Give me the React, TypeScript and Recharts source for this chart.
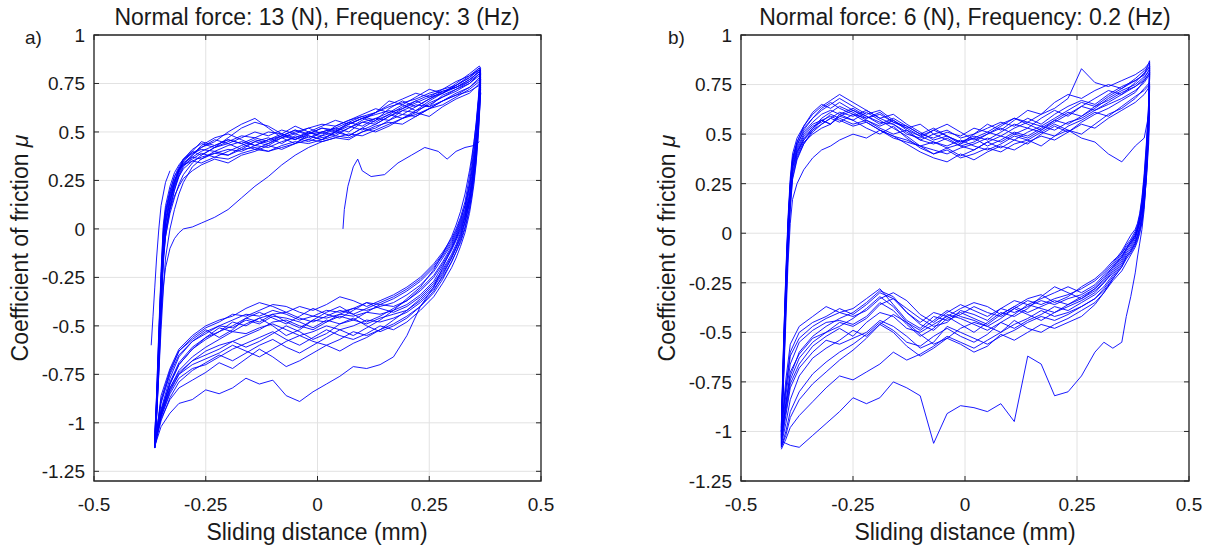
import { LineChart, Line, XAxis, YAxis, CartesianGrid, ReferenceArea } from 'recharts'

const X_TICKS = [-0.5, -0.25, 0, 0.25, 0.5]
const Y_TICKS = [-1.25, -1, -0.75, -0.5, -0.25, 0, 0.25, 0.5, 0.75, 1]

// ---- panel a) : 13 N, 3 Hz ----
// sliding distance sampled along the forward (upper) and backward (lower) stroke
const A_UP_X = [-0.364, -0.36, -0.355, -0.35, -0.345, -0.34, -0.33, -0.32, -0.31, -0.3, -0.28, -0.26, -0.23, -0.2, -0.17, -0.14, -0.11, -0.08, -0.05, -0.02, 0.01, 0.04, 0.07, 0.1, 0.13, 0.16, 0.19, 0.22, 0.25, 0.28, 0.31, 0.34, 0.362]
const A_DN_X = [0.365, 0.36, 0.355, 0.35, 0.345, 0.34, 0.33, 0.32, 0.31, 0.3, 0.28, 0.26, 0.23, 0.2, 0.17, 0.14, 0.11, 0.08, 0.05, 0.02, -0.01, -0.04, -0.07, -0.1, -0.13, -0.16, -0.19, -0.22, -0.25, -0.28, -0.31, -0.33, -0.35, -0.364]

const A_UP = [
  [-1.12, -0.95, -0.68, -0.38, -0.12, 0.02, 0.14, 0.23, 0.30, 0.35, 0.39, 0.41, 0.40, 0.43, 0.45, 0.43, 0.46, 0.48, 0.46, 0.49, 0.50, 0.48, 0.52, 0.55, 0.54, 0.58, 0.61, 0.60, 0.65, 0.68, 0.71, 0.75, 0.80],
  [-1.08, -0.85, -0.52, -0.22, 0.02, 0.12, 0.22, 0.29, 0.33, 0.36, 0.40, 0.38, 0.42, 0.44, 0.41, 0.45, 0.47, 0.44, 0.48, 0.46, 0.50, 0.52, 0.50, 0.55, 0.57, 0.56, 0.61, 0.64, 0.63, 0.69, 0.72, 0.76, 0.82],
  [-1.10, -0.92, -0.63, -0.33, -0.08, 0.04, 0.15, 0.22, 0.27, 0.31, 0.35, 0.37, 0.39, 0.38, 0.41, 0.42, 0.40, 0.43, 0.45, 0.44, 0.46, 0.48, 0.47, 0.50, 0.53, 0.55, 0.54, 0.58, 0.62, 0.64, 0.68, 0.72, 0.76],
  [-1.05, -0.88, -0.65, -0.45, -0.30, -0.20, -0.10, -0.05, -0.02, 0.00, 0.01, 0.03, 0.06, 0.10, 0.16, 0.22, 0.27, 0.33, 0.38, 0.42, 0.45, 0.47, 0.46, 0.50, 0.52, 0.56, 0.59, 0.58, 0.62, 0.66, 0.69, 0.73, 0.78],
  [-1.13, -0.97, -0.72, -0.42, -0.15, -0.02, 0.12, 0.22, 0.29, 0.34, 0.38, 0.42, 0.46, 0.44, 0.47, 0.50, 0.48, 0.51, 0.49, 0.52, 0.54, 0.53, 0.56, 0.58, 0.60, 0.63, 0.65, 0.67, 0.70, 0.72, 0.74, 0.78, 0.83],
  [-1.11, -0.93, -0.62, -0.30, -0.04, 0.08, 0.19, 0.27, 0.32, 0.36, 0.39, 0.42, 0.45, 0.50, 0.54, 0.57, 0.52, 0.47, 0.44, 0.49, 0.52, 0.50, 0.55, 0.58, 0.56, 0.62, 0.66, 0.63, 0.67, 0.71, 0.73, 0.77, 0.81],
  [-1.09, -0.90, -0.58, -0.27, -0.02, 0.09, 0.18, 0.25, 0.31, 0.34, 0.37, 0.36, 0.39, 0.41, 0.40, 0.43, 0.42, 0.45, 0.47, 0.45, 0.48, 0.50, 0.53, 0.51, 0.54, 0.58, 0.62, 0.66, 0.63, 0.66, 0.70, 0.73, 0.77],
  [-1.12, -0.96, -0.70, -0.40, -0.14, -0.01, 0.11, 0.20, 0.27, 0.32, 0.37, 0.40, 0.43, 0.46, 0.44, 0.41, 0.44, 0.48, 0.51, 0.48, 0.46, 0.50, 0.54, 0.57, 0.55, 0.59, 0.63, 0.66, 0.69, 0.71, 0.73, 0.77, 0.81],
  [-1.10, -0.91, -0.60, -0.28, -0.03, 0.07, 0.17, 0.25, 0.30, 0.33, 0.36, 0.39, 0.37, 0.40, 0.43, 0.46, 0.44, 0.47, 0.50, 0.52, 0.49, 0.51, 0.54, 0.57, 0.59, 0.61, 0.59, 0.63, 0.67, 0.70, 0.74, 0.79, 0.82],
  [-1.11, -0.94, -0.66, -0.35, -0.10, 0.03, 0.14, 0.24, 0.31, 0.36, 0.41, 0.44, 0.42, 0.45, 0.48, 0.47, 0.50, 0.49, 0.47, 0.50, 0.53, 0.56, 0.54, 0.57, 0.60, 0.64, 0.67, 0.70, 0.68, 0.72, 0.76, 0.79, 0.83],
  [-1.09, -0.89, -0.56, -0.24, 0.00, 0.10, 0.20, 0.27, 0.31, 0.33, 0.35, 0.34, 0.37, 0.36, 0.39, 0.41, 0.40, 0.42, 0.44, 0.46, 0.45, 0.47, 0.49, 0.48, 0.51, 0.54, 0.57, 0.59, 0.62, 0.66, 0.69, 0.71, 0.74],
  [-1.13, -0.98, -0.74, -0.45, -0.18, -0.04, 0.10, 0.20, 0.28, 0.33, 0.38, 0.43, 0.47, 0.49, 0.46, 0.43, 0.46, 0.49, 0.53, 0.50, 0.47, 0.49, 0.52, 0.56, 0.60, 0.66, 0.64, 0.61, 0.66, 0.70, 0.75, 0.80, 0.84],
  [-1.10, -0.96, -0.75, -0.52, -0.32, -0.15, 0.00, 0.10, 0.18, 0.24, 0.32, 0.36, 0.40, 0.38, 0.42, 0.45, 0.43, 0.47, 0.49, 0.47, 0.50, 0.52, 0.55, 0.53, 0.57, 0.60, 0.62, 0.65, 0.68, 0.70, 0.73, 0.76, 0.80],
  [-1.12, -0.93, -0.64, -0.36, -0.16, -0.04, 0.08, 0.16, 0.23, 0.28, 0.34, 0.38, 0.42, 0.47, 0.52, 0.55, 0.53, 0.49, 0.46, 0.50, 0.48, 0.53, 0.56, 0.59, 0.62, 0.60, 0.64, 0.68, 0.72, 0.70, 0.74, 0.78, 0.82],
  [-1.08, -0.86, -0.54, -0.26, -0.06, 0.05, 0.16, 0.24, 0.30, 0.35, 0.40, 0.45, 0.43, 0.46, 0.44, 0.47, 0.45, 0.48, 0.51, 0.49, 0.52, 0.51, 0.48, 0.52, 0.56, 0.59, 0.57, 0.61, 0.64, 0.68, 0.72, 0.75, 0.79],
  [-1.11, -0.92, -0.60, -0.32, -0.10, 0.00, 0.10, 0.17, 0.22, 0.26, 0.30, 0.33, 0.36, 0.34, 0.38, 0.40, 0.43, 0.41, 0.44, 0.48, 0.46, 0.50, 0.48, 0.52, 0.50, 0.53, 0.57, 0.60, 0.58, 0.63, 0.67, 0.70, 0.75],
]

const A_DN = [
  [0.76, 0.58, 0.42, 0.31, 0.22, 0.16, 0.06, -0.01, -0.06, -0.11, -0.19, -0.27, -0.34, -0.39, -0.42, -0.44, -0.43, -0.47, -0.49, -0.47, -0.51, -0.48, -0.46, -0.45, -0.49, -0.47, -0.51, -0.50, -0.54, -0.58, -0.66, -0.77, -0.93, -1.12],
  [0.80, 0.62, 0.46, 0.35, 0.27, 0.20, 0.09, 0.02, -0.04, -0.09, -0.17, -0.24, -0.31, -0.37, -0.40, -0.39, -0.43, -0.45, -0.44, -0.48, -0.47, -0.51, -0.48, -0.44, -0.46, -0.50, -0.48, -0.53, -0.56, -0.62, -0.70, -0.80, -0.95, -1.13],
  [0.72, 0.50, 0.35, 0.25, 0.17, 0.10, 0.00, -0.07, -0.12, -0.17, -0.25, -0.31, -0.38, -0.43, -0.46, -0.48, -0.47, -0.50, -0.52, -0.50, -0.53, -0.55, -0.52, -0.49, -0.51, -0.54, -0.53, -0.57, -0.61, -0.66, -0.73, -0.82, -0.96, -1.11],
  [0.70, 0.52, 0.38, 0.28, 0.20, 0.13, 0.03, -0.05, -0.10, -0.15, -0.23, -0.30, -0.37, -0.42, -0.44, -0.46, -0.49, -0.47, -0.45, -0.48, -0.52, -0.50, -0.47, -0.48, -0.52, -0.55, -0.58, -0.60, -0.63, -0.68, -0.75, -0.84, -0.97, -1.10],
  [0.81, 0.65, 0.50, 0.39, 0.30, 0.22, 0.10, 0.03, -0.03, -0.08, -0.15, -0.22, -0.29, -0.34, -0.38, -0.40, -0.42, -0.41, -0.44, -0.46, -0.45, -0.47, -0.44, -0.42, -0.45, -0.44, -0.47, -0.50, -0.53, -0.58, -0.65, -0.75, -0.90, -1.13],
  [0.78, 0.60, 0.45, 0.33, 0.24, 0.17, 0.07, 0.00, -0.05, -0.10, -0.18, -0.25, -0.32, -0.37, -0.41, -0.45, -0.48, -0.44, -0.40, -0.43, -0.47, -0.52, -0.55, -0.50, -0.46, -0.49, -0.53, -0.51, -0.56, -0.61, -0.69, -0.79, -0.94, -1.12],
  [0.74, 0.56, 0.41, 0.30, 0.21, 0.14, 0.04, -0.03, -0.09, -0.14, -0.22, -0.29, -0.36, -0.42, -0.47, -0.52, -0.55, -0.53, -0.57, -0.60, -0.58, -0.55, -0.58, -0.62, -0.66, -0.63, -0.60, -0.64, -0.67, -0.70, -0.75, -0.83, -0.96, -1.11],
  [0.79, 0.60, 0.44, 0.33, 0.25, 0.18, 0.08, 0.01, -0.05, -0.10, -0.20, -0.30, -0.40, -0.55, -0.66, -0.70, -0.72, -0.71, -0.76, -0.80, -0.84, -0.89, -0.86, -0.78, -0.80, -0.77, -0.82, -0.85, -0.83, -0.88, -0.90, -0.95, -1.02, -1.12],
  [0.75, 0.57, 0.41, 0.30, 0.21, 0.14, 0.04, -0.04, -0.10, -0.15, -0.24, -0.32, -0.40, -0.46, -0.50, -0.53, -0.50, -0.46, -0.49, -0.54, -0.57, -0.53, -0.50, -0.54, -0.58, -0.61, -0.58, -0.62, -0.65, -0.68, -0.74, -0.82, -0.95, -1.10],
  [0.82, 0.66, 0.52, 0.41, 0.32, 0.24, 0.12, 0.04, -0.02, -0.07, -0.14, -0.20, -0.27, -0.32, -0.36, -0.39, -0.38, -0.41, -0.43, -0.42, -0.45, -0.43, -0.40, -0.39, -0.42, -0.45, -0.44, -0.48, -0.51, -0.56, -0.63, -0.73, -0.88, -1.12],
  [0.70, 0.49, 0.34, 0.23, 0.15, 0.08, -0.02, -0.09, -0.15, -0.20, -0.28, -0.35, -0.42, -0.48, -0.52, -0.50, -0.54, -0.57, -0.55, -0.52, -0.56, -0.60, -0.57, -0.53, -0.56, -0.59, -0.62, -0.66, -0.70, -0.72, -0.77, -0.85, -0.97, -1.10],
  [0.83, 0.68, 0.55, 0.44, 0.35, 0.27, 0.14, 0.06, 0.00, -0.05, -0.12, -0.18, -0.25, -0.30, -0.34, -0.37, -0.40, -0.37, -0.35, -0.39, -0.42, -0.40, -0.43, -0.40, -0.38, -0.41, -0.45, -0.47, -0.50, -0.55, -0.62, -0.72, -0.86, -1.13],
  [0.77, 0.60, 0.47, 0.37, 0.29, 0.22, 0.12, 0.05, -0.01, -0.06, -0.13, -0.19, -0.26, -0.31, -0.35, -0.38, -0.41, -0.44, -0.42, -0.45, -0.48, -0.46, -0.43, -0.44, -0.48, -0.46, -0.50, -0.53, -0.57, -0.62, -0.70, -0.80, -0.94, -1.11],
  [0.80, 0.66, 0.54, 0.45, 0.37, 0.30, 0.18, 0.09, 0.02, -0.04, -0.13, -0.21, -0.30, -0.36, -0.42, -0.47, -0.51, -0.55, -0.52, -0.56, -0.60, -0.64, -0.61, -0.57, -0.60, -0.64, -0.68, -0.65, -0.69, -0.73, -0.79, -0.87, -0.99, -1.12],
  [0.77, 0.59, 0.43, 0.32, 0.23, 0.16, 0.06, -0.02, -0.08, -0.13, -0.21, -0.28, -0.35, -0.40, -0.43, -0.41, -0.38, -0.42, -0.46, -0.44, -0.41, -0.45, -0.49, -0.46, -0.43, -0.46, -0.52, -0.56, -0.52, -0.57, -0.63, -0.74, -0.89, -1.10],
  [0.73, 0.54, 0.38, 0.27, 0.18, 0.11, 0.01, -0.06, -0.12, -0.17, -0.26, -0.33, -0.40, -0.45, -0.49, -0.52, -0.56, -0.59, -0.63, -0.60, -0.64, -0.68, -0.71, -0.66, -0.62, -0.67, -0.72, -0.69, -0.74, -0.78, -0.82, -0.88, -0.98, -1.11],
]

// first loading from rest and the first short reversal
const A_START_X = [0.057, 0.06, 0.068, 0.08, 0.09, 0.1, 0.12, 0.15, 0.18, 0.21, 0.24, 0.27, 0.29, 0.31, 0.33, 0.35, 0.362]
const A_START_Y = [0, 0.1, 0.22, 0.32, 0.36, 0.30, 0.27, 0.28, 0.34, 0.38, 0.42, 0.40, 0.36, 0.40, 0.42, 0.43, 0.45]
const A_FIRST_X = [-0.372, -0.368, -0.364, -0.36, -0.355, -0.35, -0.34, -0.33]
const A_FIRST_Y = [-0.60, -0.45, -0.30, -0.15, 0.0, 0.12, 0.24, 0.30]

// ---- panel b) : 6 N, 0.2 Hz ----
const B_UP_X = [-0.41, -0.405, -0.40, -0.395, -0.39, -0.385, -0.375, -0.36, -0.34, -0.32, -0.30, -0.28, -0.25, -0.22, -0.19, -0.16, -0.13, -0.10, -0.07, -0.04, -0.01, 0.02, 0.05, 0.08, 0.11, 0.14, 0.17, 0.20, 0.23, 0.26, 0.29, 0.32, 0.35, 0.38, 0.40, 0.412]
const B_DN_X = [0.412, 0.41, 0.405, 0.40, 0.395, 0.39, 0.385, 0.38, 0.37, 0.36, 0.35, 0.33, 0.31, 0.29, 0.26, 0.23, 0.20, 0.17, 0.14, 0.11, 0.08, 0.05, 0.02, -0.01, -0.04, -0.07, -0.10, -0.13, -0.16, -0.19, -0.22, -0.25, -0.28, -0.31, -0.34, -0.37, -0.39, -0.40, -0.41]

const B_UP = [
  [-1.02, -0.62, -0.28, 0.02, 0.22, 0.34, 0.42, 0.49, 0.54, 0.56, 0.60, 0.58, 0.55, 0.57, 0.53, 0.50, 0.52, 0.47, 0.45, 0.48, 0.44, 0.42, 0.46, 0.49, 0.47, 0.51, 0.54, 0.52, 0.56, 0.58, 0.62, 0.65, 0.68, 0.72, 0.76, 0.80],
  [-0.98, -0.55, -0.22, 0.06, 0.26, 0.37, 0.45, 0.51, 0.56, 0.60, 0.62, 0.60, 0.63, 0.59, 0.56, 0.55, 0.50, 0.48, 0.52, 0.49, 0.46, 0.48, 0.44, 0.47, 0.51, 0.49, 0.53, 0.57, 0.55, 0.59, 0.64, 0.67, 0.71, 0.74, 0.78, 0.83],
  [-1.05, -0.70, -0.35, -0.05, 0.16, 0.30, 0.39, 0.46, 0.50, 0.53, 0.55, 0.59, 0.57, 0.53, 0.50, 0.54, 0.48, 0.43, 0.40, 0.42, 0.38, 0.40, 0.43, 0.41, 0.45, 0.47, 0.44, 0.49, 0.52, 0.50, 0.55, 0.60, 0.63, 0.68, 0.73, 0.76],
  [-1.00, -0.60, -0.25, 0.04, 0.24, 0.36, 0.44, 0.52, 0.58, 0.62, 0.65, 0.68, 0.64, 0.60, 0.62, 0.57, 0.53, 0.55, 0.50, 0.52, 0.48, 0.50, 0.53, 0.56, 0.54, 0.58, 0.55, 0.60, 0.64, 0.67, 0.65, 0.70, 0.74, 0.77, 0.80, 0.87],
  [-1.06, -0.75, -0.45, -0.15, 0.05, 0.17, 0.25, 0.32, 0.38, 0.42, 0.44, 0.47, 0.50, 0.48, 0.52, 0.49, 0.45, 0.41, 0.38, 0.36, 0.40, 0.37, 0.41, 0.44, 0.42, 0.46, 0.49, 0.47, 0.51, 0.55, 0.53, 0.58, 0.62, 0.66, 0.70, 0.74],
  [-1.03, -0.66, -0.30, 0.00, 0.20, 0.33, 0.41, 0.47, 0.52, 0.55, 0.58, 0.56, 0.60, 0.56, 0.52, 0.48, 0.46, 0.44, 0.46, 0.43, 0.45, 0.50, 0.55, 0.52, 0.57, 0.62, 0.60, 0.66, 0.70, 0.68, 0.72, 0.75, 0.73, 0.78, 0.82, 0.85],
  [-1.01, -0.64, -0.27, 0.03, 0.23, 0.35, 0.43, 0.50, 0.55, 0.57, 0.59, 0.57, 0.54, 0.56, 0.52, 0.49, 0.47, 0.44, 0.42, 0.40, 0.43, 0.45, 0.48, 0.46, 0.50, 0.53, 0.51, 0.55, 0.52, 0.48, 0.46, 0.40, 0.36, 0.44, 0.48, 0.62],
  [-1.08, -0.72, -0.38, -0.08, 0.14, 0.28, 0.38, 0.45, 0.51, 0.55, 0.58, 0.61, 0.59, 0.62, 0.58, 0.55, 0.51, 0.47, 0.50, 0.47, 0.44, 0.46, 0.50, 0.53, 0.50, 0.48, 0.52, 0.56, 0.60, 0.64, 0.62, 0.66, 0.70, 0.74, 0.77, 0.81],
  [-0.99, -0.58, -0.24, 0.05, 0.25, 0.38, 0.46, 0.53, 0.58, 0.63, 0.66, 0.63, 0.60, 0.58, 0.61, 0.56, 0.54, 0.50, 0.48, 0.51, 0.49, 0.53, 0.51, 0.55, 0.58, 0.56, 0.60, 0.63, 0.68, 0.83, 0.76, 0.74, 0.77, 0.80, 0.83, 0.86],
  [-1.04, -0.68, -0.33, -0.03, 0.18, 0.31, 0.40, 0.47, 0.53, 0.58, 0.61, 0.64, 0.61, 0.57, 0.54, 0.57, 0.52, 0.49, 0.46, 0.44, 0.47, 0.44, 0.42, 0.45, 0.49, 0.47, 0.51, 0.49, 0.54, 0.57, 0.61, 0.59, 0.64, 0.69, 0.72, 0.75],
  [-1.07, -0.73, -0.40, -0.10, 0.12, 0.27, 0.37, 0.45, 0.52, 0.57, 0.55, 0.59, 0.62, 0.58, 0.60, 0.56, 0.53, 0.49, 0.52, 0.55, 0.51, 0.47, 0.50, 0.54, 0.58, 0.55, 0.52, 0.57, 0.61, 0.59, 0.63, 0.68, 0.72, 0.75, 0.79, 0.82],
  [-0.97, -0.57, -0.20, 0.08, 0.28, 0.40, 0.48, 0.54, 0.60, 0.64, 0.67, 0.70, 0.66, 0.62, 0.58, 0.60, 0.55, 0.51, 0.47, 0.49, 0.46, 0.49, 0.47, 0.51, 0.55, 0.53, 0.58, 0.62, 0.59, 0.64, 0.68, 0.72, 0.70, 0.76, 0.81, 0.84],
  [-1.02, -0.66, -0.31, 0.00, 0.21, 0.33, 0.41, 0.48, 0.53, 0.57, 0.55, 0.60, 0.57, 0.61, 0.57, 0.53, 0.49, 0.44, 0.40, 0.43, 0.39, 0.42, 0.46, 0.43, 0.47, 0.45, 0.50, 0.54, 0.51, 0.56, 0.60, 0.63, 0.67, 0.71, 0.77, 0.81],
  [-1.00, -0.62, -0.27, 0.03, 0.24, 0.37, 0.46, 0.54, 0.61, 0.65, 0.63, 0.66, 0.62, 0.59, 0.55, 0.58, 0.54, 0.50, 0.53, 0.49, 0.45, 0.48, 0.51, 0.49, 0.53, 0.56, 0.54, 0.58, 0.62, 0.66, 0.64, 0.69, 0.73, 0.77, 0.80, 0.84],
]

const B_DN = [
  [0.78, 0.58, 0.36, 0.21, 0.11, 0.05, 0.01, -0.02, -0.06, -0.09, -0.13, -0.19, -0.25, -0.30, -0.34, -0.37, -0.40, -0.38, -0.36, -0.41, -0.45, -0.49, -0.46, -0.43, -0.41, -0.48, -0.52, -0.46, -0.39, -0.35, -0.42, -0.46, -0.44, -0.45, -0.49, -0.55, -0.66, -0.82, -1.03],
  [0.80, 0.62, 0.42, 0.26, 0.15, 0.08, 0.03, 0.00, -0.04, -0.08, -0.11, -0.17, -0.22, -0.27, -0.31, -0.33, -0.36, -0.34, -0.37, -0.40, -0.38, -0.44, -0.41, -0.39, -0.45, -0.47, -0.43, -0.38, -0.33, -0.30, -0.36, -0.41, -0.38, -0.42, -0.45, -0.50, -0.60, -0.78, -0.98],
  [0.74, 0.52, 0.30, 0.16, 0.07, 0.02, -0.02, -0.05, -0.09, -0.12, -0.16, -0.22, -0.28, -0.33, -0.37, -0.41, -0.44, -0.42, -0.45, -0.49, -0.52, -0.56, -0.53, -0.50, -0.47, -0.55, -0.58, -0.52, -0.47, -0.44, -0.50, -0.53, -0.56, -0.54, -0.60, -0.68, -0.78, -0.92, -1.06],
  [0.84, 0.66, 0.46, 0.30, 0.18, 0.10, 0.05, 0.02, -0.01, -0.05, -0.09, -0.15, -0.20, -0.24, -0.28, -0.31, -0.33, -0.36, -0.34, -0.38, -0.42, -0.40, -0.37, -0.41, -0.44, -0.42, -0.48, -0.44, -0.36, -0.28, -0.33, -0.38, -0.40, -0.37, -0.42, -0.47, -0.56, -0.74, -1.00],
  [0.72, 0.50, 0.28, 0.14, 0.05, 0.00, -0.04, -0.07, -0.11, -0.15, -0.19, -0.24, -0.30, -0.35, -0.39, -0.43, -0.46, -0.50, -0.48, -0.44, -0.50, -0.54, -0.58, -0.55, -0.52, -0.57, -0.61, -0.64, -0.60, -0.66, -0.70, -0.74, -0.72, -0.78, -0.85, -0.92, -0.98, -1.04, -1.09],
  [0.82, 0.63, 0.40, 0.24, 0.13, 0.06, 0.02, -0.02, -0.05, -0.08, -0.12, -0.17, -0.23, -0.28, -0.32, -0.36, -0.40, -0.44, -0.41, -0.38, -0.43, -0.47, -0.44, -0.42, -0.39, -0.44, -0.49, -0.45, -0.37, -0.32, -0.38, -0.43, -0.47, -0.50, -0.53, -0.61, -0.70, -0.86, -1.04],
  [0.60, 0.45, 0.28, 0.15, 0.06, 0.01, -0.03, -0.06, -0.10, -0.13, -0.17, -0.23, -0.29, -0.33, -0.37, -0.40, -0.42, -0.39, -0.43, -0.46, -0.50, -0.47, -0.45, -0.48, -0.53, -0.56, -0.51, -0.45, -0.41, -0.46, -0.52, -0.49, -0.54, -0.58, -0.63, -0.72, -0.84, -0.96, -1.07],
  [0.78, 0.55, 0.30, 0.12, 0.02, -0.05, -0.12, -0.20, -0.32, -0.42, -0.55, -0.58, -0.55, -0.60, -0.72, -0.80, -0.82, -0.66, -0.62, -0.95, -0.86, -0.90, -0.88, -0.87, -0.91, -1.06, -0.82, -0.78, -0.75, -0.83, -0.86, -0.83, -0.90, -0.96, -1.02, -1.08, -1.07, -1.06, -1.05],
  [0.83, 0.64, 0.44, 0.28, 0.17, 0.09, 0.04, 0.01, -0.03, -0.06, -0.10, -0.16, -0.21, -0.26, -0.30, -0.27, -0.30, -0.33, -0.36, -0.34, -0.38, -0.42, -0.39, -0.36, -0.40, -0.45, -0.41, -0.34, -0.30, -0.33, -0.39, -0.42, -0.40, -0.43, -0.47, -0.53, -0.62, -0.79, -1.00],
  [0.73, 0.52, 0.32, 0.18, 0.08, 0.03, -0.01, -0.04, -0.08, -0.11, -0.15, -0.21, -0.27, -0.31, -0.35, -0.39, -0.37, -0.41, -0.44, -0.48, -0.45, -0.51, -0.55, -0.52, -0.48, -0.52, -0.57, -0.55, -0.49, -0.45, -0.51, -0.56, -0.60, -0.65, -0.71, -0.80, -0.90, -1.00, -1.08],
  [0.79, 0.60, 0.38, 0.22, 0.12, 0.06, 0.01, -0.03, -0.07, -0.10, -0.14, -0.20, -0.25, -0.29, -0.33, -0.30, -0.27, -0.32, -0.38, -0.42, -0.40, -0.45, -0.50, -0.46, -0.42, -0.46, -0.50, -0.48, -0.42, -0.40, -0.45, -0.52, -0.48, -0.52, -0.57, -0.66, -0.76, -0.90, -1.05],
  [0.81, 0.61, 0.40, 0.25, 0.14, 0.07, 0.03, -0.01, -0.04, -0.07, -0.10, -0.14, -0.19, -0.23, -0.27, -0.32, -0.35, -0.31, -0.33, -0.37, -0.41, -0.37, -0.35, -0.38, -0.42, -0.40, -0.45, -0.40, -0.33, -0.36, -0.43, -0.47, -0.45, -0.50, -0.55, -0.63, -0.74, -0.88, -1.02],
  [0.78, 0.56, 0.34, 0.19, 0.09, 0.03, -0.01, -0.05, -0.09, -0.12, -0.17, -0.23, -0.30, -0.36, -0.42, -0.45, -0.48, -0.46, -0.50, -0.54, -0.51, -0.57, -0.60, -0.56, -0.53, -0.58, -0.62, -0.57, -0.50, -0.46, -0.53, -0.59, -0.64, -0.70, -0.76, -0.84, -0.93, -1.02, -1.08],
  [0.81, 0.60, 0.38, 0.22, 0.12, 0.06, 0.02, -0.01, -0.05, -0.08, -0.12, -0.18, -0.24, -0.28, -0.33, -0.36, -0.34, -0.37, -0.40, -0.37, -0.41, -0.46, -0.43, -0.40, -0.43, -0.49, -0.46, -0.40, -0.32, -0.29, -0.35, -0.40, -0.43, -0.47, -0.52, -0.60, -0.72, -0.86, -1.03],
]

type Pt = { x: number; y: number }

const FONT = "'Liberation Sans', Arial, Helvetica, sans-serif"
const INK = '#1a1a1a'
const BOX = '#262626'
const BLUE = '#0000ff'

const toPts = (xs: number[], ys: number[]): Pt[] =>
  ys.map((y, i) => ({ x: xs[i], y })).filter(p => p.x !== undefined)

const buildLoops = (upX: number[], dnX: number[], ups: number[][], dns: number[][]): Pt[][] =>
  ups.map((u, i) => [...toPts(upX, u), ...toPts(dnX, dns[i])])

const SERIES_A = [
  toPts(A_FIRST_X, A_FIRST_Y),
  toPts(A_START_X, A_START_Y),
  ...buildLoops(A_UP_X, A_DN_X, A_UP, A_DN),
]
const SERIES_B = buildLoops(B_UP_X, B_DN_X, B_UP, B_DN)

const H = 546
const TOP = 35
const X_AXIS_H = 30
const BOTTOM = 35
const PLOT_H = H - TOP - X_AXIS_H - BOTTOM

// tick labels outside, tick marks inside on all four sides (matlab box style)
const yTick = (plotW: number) => (p: any) => {
  const ax = p.x + 9
  return (
    <g>
      <text x={p.x} y={p.y} dy="0.36em" textAnchor="end" fontSize={19} fontFamily={FONT} fill={INK}>
        {p.payload.value}
      </text>
      <line x1={ax} x2={ax + 5} y1={p.y} y2={p.y} stroke={BOX} />
      <line x1={ax + plotW - 5} x2={ax + plotW} y1={p.y} y2={p.y} stroke={BOX} />
    </g>
  )
}

const xTick = (p: any) => {
  const ay = p.y - 16
  return (
    <g>
      <text x={p.x} y={p.y} dy="0.72em" textAnchor="middle" fontSize={19} fontFamily={FONT} fill={INK}>
        {p.payload.value}
      </text>
      <line x1={p.x} x2={p.x} y1={ay} y2={ay - 5} stroke={BOX} />
      <line x1={p.x} x2={p.x} y1={ay - PLOT_H} y2={ay - PLOT_H + 5} stroke={BOX} />
    </g>
  )
}

interface PanelProps {
  left: number
  width: number
  axisW: number
  right: number
  yMin: number
  series: Pt[][]
}

function Panel({ left, width, axisW, right, yMin, series }: PanelProps) {
  const plotW = width - axisW - right
  return (
    <div style={{ position: 'absolute', left, top: 0 }}>
      <LineChart width={width} height={H} margin={{ top: TOP, right, bottom: BOTTOM, left: 0 }}>
        <CartesianGrid stroke="#e2e2e2" strokeWidth={1} />
        <XAxis
          type="number"
          dataKey="x"
          domain={[-0.5, 0.5]}
          ticks={X_TICKS}
          interval={0}
          allowDataOverflow
          height={X_AXIS_H}
          axisLine={false}
          tickLine={false}
          tickSize={0}
          tickMargin={16}
          tick={xTick}
        />
        <YAxis
          type="number"
          domain={[yMin, 1]}
          ticks={Y_TICKS}
          interval={0}
          allowDataOverflow
          width={axisW}
          axisLine={false}
          tickLine={false}
          tickSize={0}
          tickMargin={9}
          tick={yTick(plotW)}
        />
        {series.map((pts, i) => (
          <Line
            key={i}
            data={pts}
            dataKey="y"
            type="linear"
            stroke={BLUE}
            strokeWidth={0.9}
            dot={false}
            activeDot={false}
            isAnimationActive={false}
          />
        ))}
        <ReferenceArea x1={-0.5} x2={0.5} y1={yMin} y2={1} fill="none" fillOpacity={0} stroke={BOX} strokeWidth={1.3} />
      </LineChart>
    </div>
  )
}

export default function App() {
  return (
    <div style={{ position: 'absolute', left: 0, top: 0, width: 1213, height: H, background: '#fff', fontFamily: FONT }}>
      <Panel left={0} width={560} axisW={94} right={19} yMin={-1.3} series={SERIES_A} />
      <Panel left={640} width={573} axisW={101} right={24} yMin={-1.25} series={SERIES_B} />

      <svg width={1213} height={H} style={{ position: 'absolute', left: 0, top: 0, pointerEvents: 'none' }}>
        <g fontFamily={FONT} fill={INK}>
          <text x={317} y={25} fontSize={23} textAnchor="middle">Normal force: 13 (N), Frequency: 3 (Hz)</text>
          <text x={965} y={25} fontSize={23} textAnchor="middle">Normal force: 6 (N), Frequency: 0.2 (Hz)</text>
          <text x={317} y={540} fontSize={23} textAnchor="middle">Sliding distance (mm)</text>
          <text x={965} y={540} fontSize={23} textAnchor="middle">Sliding distance (mm)</text>
          <text transform="translate(28,248) rotate(-90)" fontSize={23} textAnchor="middle">
            Coefficient of friction <tspan fontStyle="italic">μ</tspan>
          </text>
          <text transform="translate(675,248) rotate(-90)" fontSize={23} textAnchor="middle">
            Coefficient of friction <tspan fontStyle="italic">μ</tspan>
          </text>
          <text x={25} y={44} fontSize={19}>a)</text>
          <text x={668} y={44} fontSize={19}>b)</text>
        </g>
      </svg>
    </div>
  )
}
